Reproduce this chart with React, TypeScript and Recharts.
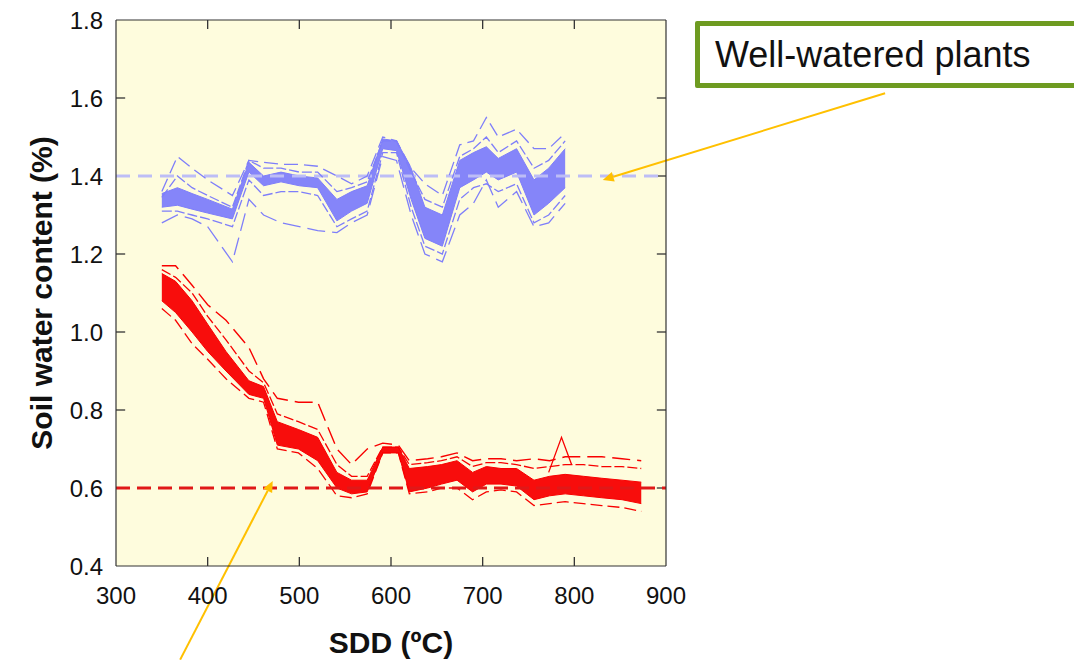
import {
  ComposedChart,
  Area,
  Line,
  XAxis,
  YAxis,
  ReferenceLine,
} from 'recharts';

// Well-watered plants (blue), SDD sampling points
const sddBlue = [350, 367, 383, 400, 427, 445, 461, 480, 500, 520, 541, 557, 574, 591, 606, 622, 637, 656, 675, 690, 704, 717, 737, 756, 772, 790];
const blueLow = [1.32, 1.325, 1.315, 1.305, 1.29, 1.41, 1.375, 1.385, 1.375, 1.37, 1.285, 1.31, 1.33, 1.47, 1.465, 1.34, 1.24, 1.22, 1.37, 1.39, 1.41, 1.39, 1.41, 1.3, 1.33, 1.37];
const blueHigh = [1.355, 1.37, 1.355, 1.34, 1.315, 1.435, 1.4, 1.41, 1.4, 1.395, 1.34, 1.36, 1.375, 1.495, 1.49, 1.42, 1.32, 1.3, 1.44, 1.46, 1.475, 1.445, 1.47, 1.39, 1.42, 1.47];
const blueSpreadHi = [1.345, 1.4, 1.37, 1.35, 1.32, 1.44, 1.42, 1.42, 1.41, 1.41, 1.36, 1.37, 1.385, 1.49, 1.49, 1.41, 1.34, 1.32, 1.45, 1.47, 1.5, 1.46, 1.49, 1.42, 1.44, 1.49];
const blueSpreadLo = [1.31, 1.31, 1.3, 1.29, 1.27, 1.39, 1.35, 1.36, 1.36, 1.35, 1.27, 1.29, 1.31, 1.46, 1.46, 1.32, 1.22, 1.2, 1.34, 1.37, 1.38, 1.36, 1.38, 1.28, 1.3, 1.35];
const blueUpper = [1.36, 1.45, 1.42, 1.39, 1.35, 1.44, 1.435, 1.43, 1.43, 1.425, 1.4, 1.38, 1.4, 1.5, 1.49, 1.42, 1.38, 1.35, 1.48, 1.49, 1.55, 1.5, 1.52, 1.47, 1.47, 1.51];
const blueLower = [1.28, 1.3, 1.29, 1.27, 1.18, 1.34, 1.3, 1.28, 1.27, 1.26, 1.255, 1.28, 1.3, 1.45, 1.44, 1.3, 1.2, 1.18, 1.3, 1.33, 1.39, 1.32, 1.36, 1.27, 1.28, 1.33];

// Water-stressed plants (red)
const sddRed = [350, 365, 383, 400, 420, 445, 461, 476, 499, 520, 541, 557, 574, 591, 608, 620, 640, 655, 672, 689, 704, 720, 737, 756, 773, 790, 810, 830, 852, 873];
const redLow = [1.08, 1.05, 1.0, 0.95, 0.9, 0.84, 0.83, 0.71, 0.7, 0.67, 0.6, 0.585, 0.59, 0.69, 0.69, 0.59, 0.6, 0.61, 0.62, 0.59, 0.61, 0.61, 0.605, 0.57, 0.58, 0.585, 0.58, 0.575, 0.57, 0.56];
const redHigh = [1.15, 1.13, 1.08, 1.02, 0.95, 0.875, 0.86, 0.77, 0.75, 0.73, 0.64, 0.62, 0.62, 0.705, 0.705, 0.65, 0.655, 0.66, 0.67, 0.64, 0.655, 0.65, 0.65, 0.62, 0.63, 0.635, 0.63, 0.625, 0.62, 0.615];
const redSpreadHi = [1.16, 1.14, 1.1, 1.04, 0.98, 0.9, 0.87, 0.79, 0.77, 0.75, 0.66, 0.63, 0.63, 0.705, 0.705, 0.66, 0.665, 0.67, 0.68, 0.655, 0.665, 0.665, 0.66, 0.65, 0.655, 0.66, 0.66, 0.655, 0.655, 0.65];
const redUpper = [1.17, 1.17, 1.12, 1.07, 1.03, 0.96, 0.88, 0.83, 0.82, 0.82, 0.7, 0.66, 0.7, 0.715, 0.71, 0.67, 0.675, 0.68, 0.69, 0.67, 0.675, 0.675, 0.67, 0.675, 0.67, 0.68, 0.68, 0.68, 0.675, 0.67];
const redLower = [1.06, 1.03, 0.97, 0.93, 0.88, 0.83, 0.82, 0.7, 0.69, 0.65, 0.58, 0.575, 0.585, 0.69, 0.69, 0.585, 0.59, 0.6, 0.6, 0.57, 0.59, 0.595, 0.59, 0.555, 0.56, 0.565, 0.56, 0.555, 0.55, 0.54];
const redSpikeSdd = [772, 786, 797];
const redSpikeVal = [0.64, 0.73, 0.66];

const xTicks = [300, 400, 500, 600, 700, 800, 900];
const yTicks = [0.4, 0.6, 0.8, 1.0, 1.2, 1.4, 1.6, 1.8];
const X_MIN = 300;
const X_MAX = 900;
const Y_MIN = 0.4;
const Y_MAX = 1.8;
const wellWateredLevel = 1.4;
const stressLevel = 0.6;

// annotation arrows, in data units (start -> tip)
const blueArrow = [{ x: 1139, y: 1.612 }, { x: 831, y: 1.39 }];
const redArrow = [{ x: 370, y: 0.16 }, { x: 471, y: 0.618 }];

const BLUE = '#7E7EFA';
const RED = '#F80000';
const AXIS = '#333';
const FONT = '"Liberation Sans", Arial, sans-serif';
// inner tick mark length, in data units (about 9px)
const TICK_DX = 10;
const TICK_DY = 0.023;
const MARGIN = { top: 19, right: 407, bottom: 0, left: 0 };
const Y_AXIS_W = 116;
const X_AXIS_H = 94;

const blueRows = sddBlue.map((sdd, i) => ({
  sdd,
  band: [blueLow[i], blueHigh[i]],
  hi: blueSpreadHi[i],
  lo: blueSpreadLo[i],
  up: blueUpper[i],
  dn: blueLower[i],
}));

const redRows = sddRed.map((sdd, i) => ({
  sdd,
  band: [redLow[i], redHigh[i]],
  hi: redSpreadHi[i],
  up: redUpper[i],
  dn: redLower[i],
}));

const redSpikeRows = redSpikeSdd.map((sdd, i) => ({ sdd, v: redSpikeVal[i] }));

// tick marks that point into the plot, on all four sides
const innerTicks = [
  ...xTicks.slice(1, -1).flatMap((t) => [
    [{ x: t, y: Y_MIN }, { x: t, y: Y_MIN + TICK_DY }],
    [{ x: t, y: Y_MAX }, { x: t, y: Y_MAX - TICK_DY }],
  ]),
  ...yTicks.slice(1, -1).flatMap((t) => [
    [{ x: X_MIN, y: t }, { x: X_MIN + TICK_DX, y: t }],
    [{ x: X_MAX, y: t }, { x: X_MAX - TICK_DX, y: t }],
  ]),
];

function Arrow(props: any) {
  const { x1, y1, x2, y2 } = props;
  const a = Math.atan2(y2 - y1, x2 - x1);
  const len = 11;
  const half = 5;
  const bx = x2 - len * Math.cos(a);
  const by = y2 - len * Math.sin(a);
  const pts = `${x2},${y2} ${bx + half * Math.sin(a)},${by - half * Math.cos(a)} ${bx - half * Math.sin(a)},${by + half * Math.cos(a)}`;
  return (
    <g>
      <line x1={x1} y1={y1} x2={bx} y2={by} stroke="#FFC000" strokeWidth={2} />
      <polygon points={pts} fill="#FFC000" />
    </g>
  );
}

const tickStyle = { fontSize: 24, fill: '#111', fontFamily: FONT };

export default function App() {
  const plotLeft = MARGIN.left + Y_AXIS_W;
  const plotTop = MARGIN.top + 1;
  return (
    <div style={{ position: 'relative', width: 1074, height: 660, background: '#fff', fontFamily: FONT }}>
      <style>{'body{margin:0}'}</style>
      {/* plot background */}
      <div
        style={{
          position: 'absolute',
          left: plotLeft,
          top: plotTop,
          width: 1074 - MARGIN.right - 1 - plotLeft,
          height: 660 - X_AXIS_H - plotTop,
          background: '#FEFCDD',
        }}
      />
      <div style={{ position: 'absolute', left: 0, top: 0 }}>
        <ComposedChart width={1074} height={660} margin={MARGIN}>
          <XAxis
            dataKey="sdd"
            type="number"
            domain={[X_MIN, X_MAX]}
            ticks={xTicks}
            height={X_AXIS_H}
            tickSize={0}
            tickLine={false}
            tickMargin={21}
            tick={tickStyle}
            stroke={AXIS}
            strokeWidth={1.2}
            allowDataOverflow
            label={{ value: 'SDD (ºC)', position: 'insideBottom', offset: 7, style: { fontSize: 30, fontWeight: 'bold', fill: '#111', fontFamily: FONT } }}
          />
          <XAxis xAxisId="top" orientation="top" type="number" domain={[X_MIN, X_MAX]} ticks={xTicks} height={1} tickLine={false} tick={false} stroke={AXIS} strokeWidth={1.2} />
          <YAxis
            type="number"
            domain={[Y_MIN, Y_MAX]}
            ticks={yTicks}
            width={Y_AXIS_W}
            tickSize={0}
            tickLine={false}
            tickMargin={13}
            tick={tickStyle}
            tickFormatter={(v: number) => v.toFixed(1)}
            stroke={AXIS}
            strokeWidth={1.2}
            allowDataOverflow
            label={{ value: 'Soil water content (%)', angle: -90, position: 'insideLeft', offset: 41, style: { textAnchor: 'middle', fontSize: 30, fontWeight: 'bold', fill: '#111', fontFamily: FONT } }}
          />
          <YAxis yAxisId="right" orientation="right" type="number" domain={[Y_MIN, Y_MAX]} ticks={yTicks} width={1} tickLine={false} tick={false} stroke={AXIS} strokeWidth={1.2} />

          {innerTicks.map((seg, i) => (
            <ReferenceLine key={`t${i}`} segment={seg} stroke={AXIS} strokeWidth={1.3} ifOverflow="visible" />
          ))}

          <ReferenceLine y={wellWateredLevel} stroke="#BDBDF6" strokeWidth={3} strokeDasharray="14 8" />

          <Area data={blueRows} dataKey="band" type="linear" stroke={BLUE} strokeWidth={1} fill={BLUE} fillOpacity={0.95} dot={false} activeDot={false} isAnimationActive={false} />
          <Line data={blueRows} dataKey="hi" type="linear" stroke={BLUE} strokeWidth={1.3} strokeDasharray="10 3" dot={false} activeDot={false} isAnimationActive={false} />
          <Line data={blueRows} dataKey="lo" type="linear" stroke={BLUE} strokeWidth={1.3} strokeDasharray="10 3" dot={false} activeDot={false} isAnimationActive={false} />
          <Line data={blueRows} dataKey="up" type="linear" stroke={BLUE} strokeWidth={1.3} strokeDasharray="14 6" dot={false} activeDot={false} isAnimationActive={false} />
          <Line data={blueRows} dataKey="dn" type="linear" stroke={BLUE} strokeWidth={1.3} strokeDasharray="18 7" dot={false} activeDot={false} isAnimationActive={false} />

          <Area data={redRows} dataKey="band" type="linear" stroke={RED} strokeWidth={1} fill={RED} fillOpacity={0.95} dot={false} activeDot={false} isAnimationActive={false} />
          <Line data={redRows} dataKey="hi" type="linear" stroke={RED} strokeWidth={1.3} strokeDasharray="10 3" dot={false} activeDot={false} isAnimationActive={false} />
          <Line data={redRows} dataKey="up" type="linear" stroke={RED} strokeWidth={1.4} strokeDasharray="18 7" dot={false} activeDot={false} isAnimationActive={false} />
          <Line data={redRows} dataKey="dn" type="linear" stroke={RED} strokeWidth={1.3} strokeDasharray="12 5" dot={false} activeDot={false} isAnimationActive={false} />
          <Line data={redSpikeRows} dataKey="v" type="linear" stroke={RED} strokeWidth={1.3} dot={false} activeDot={false} isAnimationActive={false} />

          <ReferenceLine y={stressLevel} stroke="#E01818" strokeWidth={3} strokeDasharray="14 7" />

          <ReferenceLine segment={blueArrow} ifOverflow="visible" shape={Arrow} />
          <ReferenceLine segment={redArrow} ifOverflow="visible" shape={Arrow} />
        </ComposedChart>
      </div>

      <div
        style={{
          position: 'absolute',
          left: 695,
          top: 21,
          width: 367,
          height: 57,
          border: '5px solid #6E9B21',
          borderRadius: 2,
          background: '#fff',
          display: 'flex',
          alignItems: 'center',
          paddingLeft: 15,
          boxSizing: 'content-box',
          fontSize: 36,
          color: '#111',
          fontFamily: FONT,
          whiteSpace: 'nowrap',
        }}
      >
        Well-watered plants
      </div>
    </div>
  );
}
